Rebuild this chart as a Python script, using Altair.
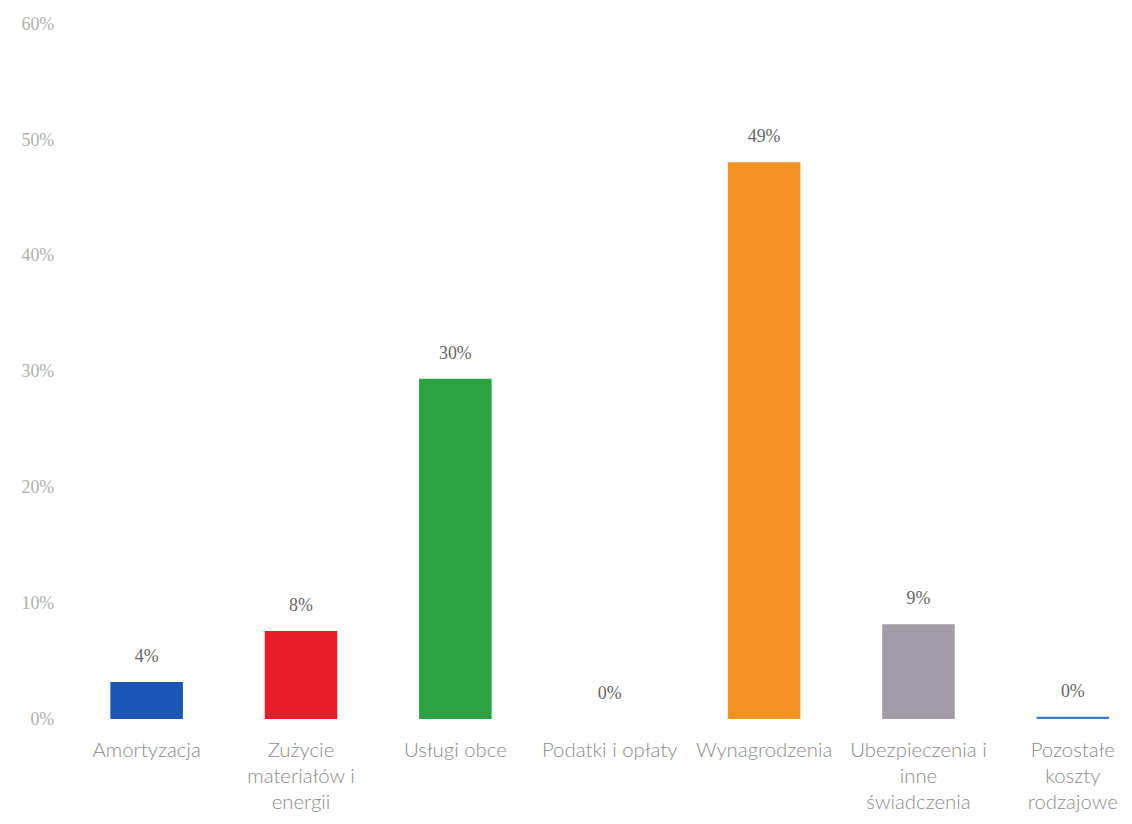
import altair as alt
import pandas as pd

categories = [
    "Amortyzacja",
    "Zużycie\nmateriałów i\nenergii",
    "Usługi obce",
    "Podatki i opłaty",
    "Wynagrodzenia",
    "Ubezpieczenia i\ninne\nświadczenia",
    "Pozostałe\nkoszty\nrodzajowe",
]
values = [3.2, 7.6, 29.4, 0.0, 48.1, 8.2, 0.2]
value_labels = ["4%", "8%", "30%", "0%", "49%", "9%", "0%"]
colors = ["#1b55b5", "#e61e2a", "#2ca243", "#d9d9d9", "#f39324", "#a19ca8", "#3a7cc4"]
y_ticks = [0, 10, 20, 30, 40, 50, 60]

df = pd.DataFrame({
    "cat": categories,
    "val": values,
    "lab": value_labels,
    "col": colors,
})

x = alt.X(
    "cat:N",
    sort=categories,
    scale=alt.Scale(paddingInner=0.53, paddingOuter=0.045),
    axis=alt.Axis(
        title=None, labelAngle=0, domain=False, ticks=False,
        labelExpr="split(datum.label, '\\n')",
        labelFont="Lato", labelFontSize=20.5, labelFontWeight=300,
        labelColor="#8c8c8c", labelPadding=22, labelLineHeight=26,
        labelLimit=300, labelOverlap=False, labelBaseline="top",
    ),
)
y = alt.Y(
    "val:Q",
    scale=alt.Scale(domain=[0, 60], nice=False),
    axis=alt.Axis(
        title=None, values=y_ticks, labelExpr="datum.value + '%'",
        domain=False, ticks=False, grid=False,
        labelFont="Liberation Serif", labelFontSize=18,
        labelColor="#b0b0b0", labelPadding=50,
    ),
)

bars = alt.Chart(df).mark_bar().encode(
    x=x, y=y, color=alt.Color("col:N", scale=None, legend=None)
)
texts = alt.Chart(df).mark_text(
    baseline="bottom", dy=-16, font="Liberation Serif", fontSize=18, color="#666666"
).encode(x=alt.X("cat:N", sort=categories), y="val:Q", text="lab:N")

chart = (bars + texts).properties(
    width=1019, height=699,
    autosize=alt.AutoSizeParams(type="none"),
    padding={"left": 96, "top": 14, "right": 8, "bottom": 92},
    background="white",
).configure_view(stroke=None, strokeWidth=0)

chart.save("out.html", embed_options={"renderer": "svg", "actions": False})
